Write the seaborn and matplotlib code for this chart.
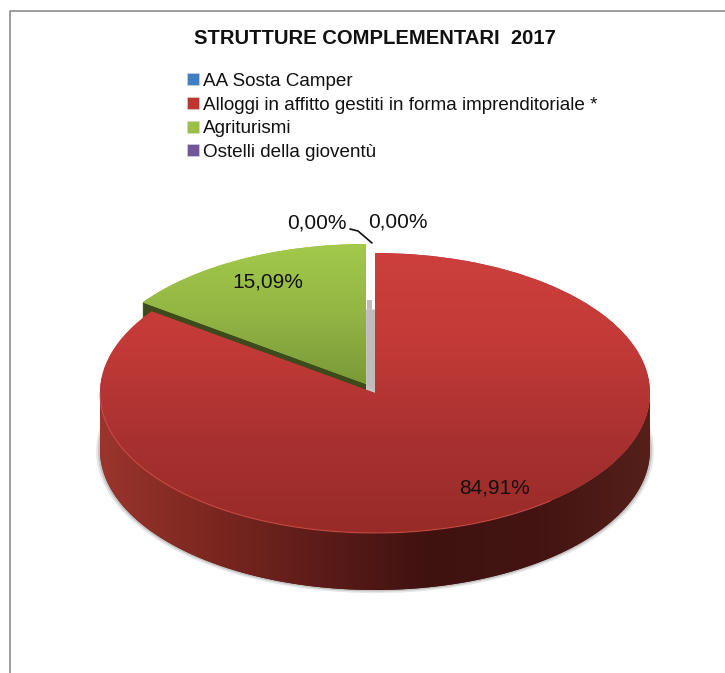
import numpy as np
import matplotlib
matplotlib.use('Agg')
import matplotlib.pyplot as plt
import seaborn as sns
from matplotlib.colors import LinearSegmentedColormap
from matplotlib.lines import Line2D
from matplotlib.patches import PathPatch, Polygon
from matplotlib.path import Path

# ── DATA ─────────────────────────────────────────────────────────────────────
TITLE      = "STRUTTURE COMPLEMENTARI  2017"
CATEGORIES = ["AA Sosta Camper", "Alloggi in affitto gestiti in forma imprenditoriale *",
              "Agriturismi", "Ostelli della gioventù"]
VALUES     = [0.00, 84.91, 15.09, 0.00]
EXPLODE    = [0.0, 0.0, 0.072, 0.0]
COLORS     = ["#3f7fc6", "#c0352f", "#9bbf45", "#71569b"]

W, H = 725, 673
CX, CY, RX, RY = 375, 393, 275, 140
DEPTH = 57 / RY

sns.set_theme(style="white")
plt.rcParams['font.family'] = ['Liberation Sans', 'DejaVu Sans']

fig = plt.figure(figsize=(W / 100, H / 100), dpi=100)
ax = fig.add_axes([0, 0, 1, 1])


def px(x, y):
    return x / W, 1 - y / H


def data(x, y):
    return (x - CX) / RX, (CY - y) / RY


def pie_layer(colors, center=(0, 0), radius=1.0, explode=EXPLODE, zorder=2, alpha=None):
    wedges, _ = ax.pie(VALUES, explode=explode, colors=colors, startangle=90,
                       counterclock=False, center=center, radius=radius,
                       wedgeprops=dict(linewidth=0, zorder=zorder, alpha=alpha))
    return wedges


def gradient(patch, stops, span, vertical=True, zorder=3):
    cmap = LinearSegmentedColormap.from_list("g", stops)
    ramp = np.linspace(0, 1, 256)
    ramp = ramp[:, None] if vertical else ramp[None, :]
    extent = (-1.1, 1.1, span[1], span[0]) if vertical else (span[0], span[1], -1.6, 1.2)
    im = ax.imshow(ramp, cmap=cmap, extent=extent, aspect='auto', origin='upper', zorder=zorder)
    im.set_clip_path(patch)
    return im


# soft shadow under the body
for off, shade in ((0.014, "#e6e6e6"), (0.007, "#c4c4c4")):
    pie_layer([shade] * 4, center=(0, -DEPTH - off * 0.6), radius=1 + off,
              explode=[0] * 4, zorder=1)

# cylinder side of the red slice
t = np.linspace(np.pi, 2 * np.pi, 200)
side_xy = np.r_[np.c_[np.cos(t), np.sin(t)], np.c_[np.cos(t[::-1]), np.sin(t[::-1]) - DEPTH]]
side = PathPatch(Path(np.vstack([side_xy, side_xy[0]]), closed=True), fc="#5a1a16", lw=0,
                 transform=ax.transData, zorder=1.5)
ax.add_patch(side)
gradient(side, ["#9a352c", "#7c2720", "#5c1c19", "#3f1210", "#431412", "#55201a"],
         (-1, 1), vertical=False, zorder=1.6)

# dark cut face of the green slice
hidden = [(0, 0, 0, 0)] * 4
for d in np.linspace(0.005, 18 / RY, 30):
    pie_layer([hidden[0], hidden[1], "#3d4a1c", hidden[3]], center=(0, -d), zorder=2)

# grey inner wall between the two slices
ax.add_patch(Polygon([data(367, 300), data(372, 300), data(372, 310), data(377, 310),
                      data(377, 392), data(367, 385)], fc="#bdbdbd", lw=0, zorder=2.2))

# top faces
green_top = pie_layer([hidden[0], hidden[1], COLORS[2], hidden[3]], zorder=2.5)[2]
gradient(green_top, ["#a3c94b", "#93b644", "#7a9a38"], (1.07, 0.07), zorder=2.6)
red_top = pie_layer([hidden[0], COLORS[1], hidden[2], hidden[3]], explode=[0] * 4, zorder=3)[1]
gradient(red_top, ["#cc3f3c", "#c23a37", "#a83130", "#982b27"], (1, -1), zorder=3.1)

# thin highlight on the front rim
t2 = np.linspace(np.pi, 1.72 * np.pi, 120)
ax.plot(np.cos(t2), np.sin(t2), color="#d8544c", lw=0.8, alpha=0.7, zorder=3.2)

ax.set_aspect('auto')
ax.set_xlim(data(0, 0)[0], data(W, 0)[0])
ax.set_ylim(data(0, H)[1], data(0, 0)[1])
ax.axis('off')

# legend
handles = [Line2D([], [], linestyle='none', marker='s', markersize=8.5, markerfacecolor=c,
                  markeredgecolor="#d8d8d8", markeredgewidth=0.4) for c in COLORS]
fig.legend(handles, CATEGORIES, loc='upper left', bbox_to_anchor=px(175, 69), frameon=False,
           fontsize=13.6, labelspacing=0.34, handletextpad=-0.2, handlelength=1.5,
           borderpad=0.2, borderaxespad=0, labelcolor="#111111")

# title and value labels
fig.text(*px(375, 39), TITLE, ha='center', va='center', fontsize=14.6, fontweight='bold',
         color="#111111")
labels = [f"{v:.2f}%".replace('.', ',') for v in VALUES]
label_pos = [(398, 222), (494, 488), (268, 282), (317, 223)]
for lab, (x, y) in zip(labels, label_pos):
    fig.text(*px(x, y), lab, ha='center', va='center', fontsize=15, color="#111111")

# leader line
xy = np.array([px(350, 229), px(358, 231), px(372, 243)])
fig.add_artist(Line2D(xy[:, 0], xy[:, 1], color="#111111", lw=1.2))

# chart frame, only top and left are visible in the crop
c = np.array([px(725, 11), px(10, 11), px(10, 673)])
fig.add_artist(Line2D(c[:, 0], c[:, 1], color="#8c8c8c", lw=1.2))

fig.savefig("out.png", dpi=100)
